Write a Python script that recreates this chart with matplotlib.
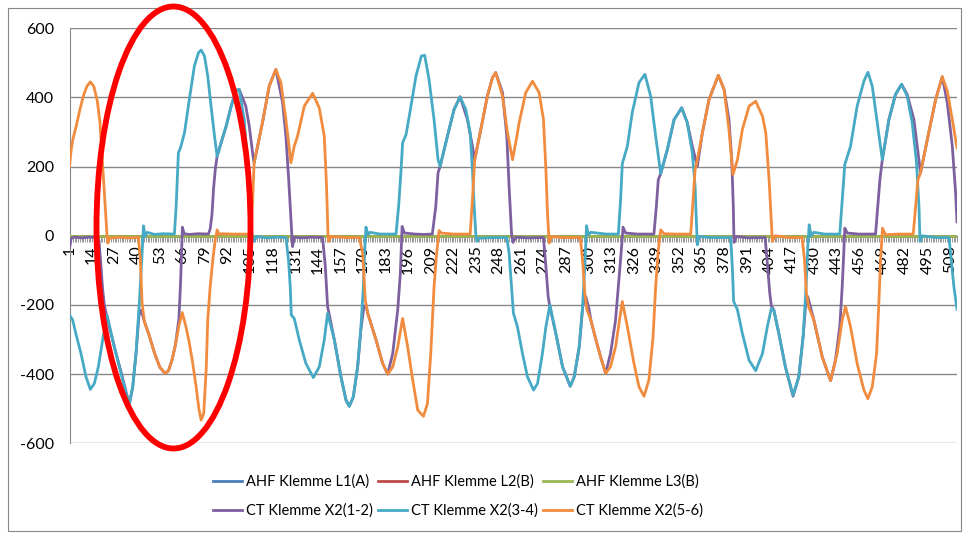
import matplotlib.pyplot as plt
from matplotlib.patches import Ellipse, Rectangle

plt.rcParams['font.family'] = ['Lato', 'DejaVu Sans']
plt.rcParams['axes.unicode_minus'] = False

# Messpunkt-Index (1..512) und Stromwerte
x_ahf = [1, 100, 200, 300, 400, 512]
y_l1 = [0, 0, 0, 0, 0, 0]
y_l2 = [0, 0, 0, 0, 0, 0]
y_l3 = [0, 0, 0, 0, 0, 0]

# CT Klemme X2(1-2)
x12 = [1, 2, 4, 8, 12, 17, 18, 19, 20, 21, 22, 24, 27, 31, 34, 35.5, 37.4, 39.3, 41, 42.3, 44.1,
       47, 50, 53, 56, 58, 60, 62, 64, 65, 66, 67, 70, 75, 81, 82, 83, 84, 85, 86,
       88.3, 91.2, 94.1, 97, 98.7, 102.5, 104.5, 106.4, 107.3, 109.3, 112.1, 116, 119.8,
       123.7, 125.6, 127.1, 128.5, 129.4, 130.4, 135, 140, 146.7, 148.3, 149.6, 150.2,
       153.5, 157.3, 160.2, 162.1, 164.4, 166.9, 168.8, 170.5, 171.7, 172.7, 177.5, 181.3,
       184.2, 187.1, 190, 191.5, 192.5, 193.8, 200, 205, 209.9, 211.9, 213.2, 214.4, 218.6,
       222.4, 225.9, 230.1, 233, 234.3, 237.8, 241.6, 244.5, 246.4, 250.3, 252.8, 254.1,
       255.5, 256.4, 258, 265, 273.9, 275.3, 276.6, 277.6, 281, 284.9, 289.3, 291.6, 294.5,
       296.6, 298.3, 300.2, 301.2, 304.1, 306.8, 309.7, 312.5, 315.4, 317.3, 318.9, 319.7,
       321.2, 328, 337.5, 338.9, 340, 341.4, 345.2, 349.1, 353.5, 356.7, 359.6, 362.5, 365.4,
       369.2, 374.6, 377.9, 380.7, 382.3, 383.2, 383.6, 385, 392, 401.5, 402.8, 404.2, 405.1,
       406.5, 409.4, 413.2, 417.6, 420.9, 423.4, 425, 426.1, 429.6, 434.4, 439.2, 442, 444.5,
       445.9, 446.8, 447.4, 448.8, 455, 465.1, 466.4, 467.6, 469, 472.8, 476.6, 480.1, 483.3,
       487.2, 490.1, 491, 494.9, 499.7, 503.5, 506.4, 509.3, 511.2, 512]
y12 = [-36, -7, -4, -6, -4, -5, -15, -80, -150, -200, -222, -265, -325, -400, -460, -485, -437, -340, -230, -215, -248,
       -290, -340, -380, -398, -390, -360, -315, -240, -130, 25, 6, 4, 6, 5, 20, 60, 140, 195, 230,
       269, 317, 375, 421, 423, 375, 317, 240, 211, 259, 327, 433, 481,
       385, 288, 172, 46, -31, -4, -6, -4, -5, -89, -205, -219,
       -301, -408, -475, -493, -466, -379, -270, -205, -200, -224, -301, -369,
       -400, -340, -214, -108, 27, 8, 5, 4, 5, 85, 182, 201, 288,
       365, 402, 336, 259, 220, 307, 404, 457, 472, 414, 288, 143,
       8, -19, -4, -6, -5, -89, -176, -205, -282, -379, -435, -408, -321,
       -200, -176, -214, -244, -301, -350, -398, -340, -244, -128, -31, 25,
       8, 5, 5, 85, 162, 180, 249, 336, 370, 327, 259, 201, 298,
       394, 464, 423, 336, 220, 85, -19, -2, -6, -5, -79, -166, -203,
       -214, -282, -379, -464, -408, -292, -190, -176, -244, -350, -419, -360, -263,
       -147, -50, 22, 8, 5, 5, 85, 162, 220, 336, 409, 438, 409,
       336, 220, 182, 278, 394, 460, 385, 259, 124, 40]

# CT Klemme X2(3-4)
x34 = [1, 2.8, 5, 7.6, 10.5, 13, 15.3, 17.6, 20.1, 22.6, 24.5, 26.8, 30.7, 33.6, 35.5, 37.4, 39.3,
       41.2, 42.6, 43.6, 44.5, 45.7, 50, 55, 61.4, 62.4, 63.7, 64.9, 67.2, 70, 72.9, 75.3, 76.8,
       78.7, 80.6, 82.5, 84.5, 86, 88.3, 91.2, 94.1, 97, 98.7, 101.6, 103.5, 104.8, 106, 107.3,
       108.7, 115, 120, 125.6, 127.1, 128.1, 128.7, 130.4, 133.3, 137.1, 141.4, 144.8, 147.7,
       149.6, 153.5, 157.3, 160.2, 162.1, 164.4, 166.9, 168.8, 170.2, 171.1, 171.7, 172.9, 174,
       180, 189, 190.5, 191.9, 192.8, 194.8, 197.6, 200.5, 203.6, 205.5, 208, 210.9, 213.2,
       214.4, 218.6, 222.4, 225.9, 229.2, 231.7, 233, 234, 234.9, 235.5, 236.8, 245, 252.8,
       254.1, 255.5, 256.6, 258.9, 261.8, 264.7, 268.2, 270.5, 273.3, 275.3, 277.6, 281, 284.9,
       289.3, 291.6, 294.5, 296.4, 297.7, 298.7, 299.7, 301.2, 310, 317, 318.3, 319.3, 322.2,
       325, 328.9, 332.3, 335.6, 338.5, 341.4, 345.2, 349.1, 353.5, 356.7, 359.6, 361.2, 361.9,
       362.5, 363.5, 370, 381.7, 382.7, 383.4, 385.6, 388.4, 392.3, 396.1, 400, 402.8, 405.1,
       406.5, 409.4, 413.2, 417.6, 420.9, 423.4, 425.1, 426.1, 426.9, 428, 429.6, 436, 444.5,
       445.9, 447.4, 450.7, 454.5, 458.4, 460.7, 463.2, 466.1, 469, 472.8, 476.6, 480.1, 483.3,
       486.2, 488.7, 490.1, 490.7, 492, 500, 507.4, 508.7, 510.2, 512]
y34 = [-229, -243, -290, -340, -408, -444, -427, -379, -301, -229, -270, -321, -398, -456, -485, -437, -340,
       -195, -70, 29, -2, 10, 4, 6, 5, 85, 240, 254, 298, 394, 491, 530, 537,
       520, 462, 375, 288, 230, 269, 317, 375, 421, 423, 336, 211, 95, 8, -16,
       -2, -6, -4, -5, -70, -147, -229, -239, -301, -369, -410, -379, -301,
       -224, -301, -408, -475, -493, -466, -379, -263, -147, -31, 25, 3, 10,
       5, 5, 85, 191, 269, 293, 375, 462, 520, 522, 452, 336, 220,
       201, 288, 365, 402, 365, 298, 191, 85, 8, -16, -7, -5, -5,
       -50, -147, -224, -263, -340, -408, -446, -427, -340, -263, -200, -282, -379,
       -435, -408, -321, -205, -89, 29, 3, 10, 5, 5, 104, 209, 259,
       356, 443, 467, 404, 288, 180, 249, 336, 370, 327, 240, 143, 46,
       -26, -2, -5, -5, -99, -190, -214, -282, -360, -390, -340, -263, -210,
       -214, -282, -379, -461, -408, -292, -147, -31, 32, 0, 10, 5, 5,
       104, 206, 259, 375, 447, 473, 433, 327, 220, 336, 409, 438, 404,
       327, 211, 85, -16, 0, -5, -5, -70, -147, -212]

# CT Klemme X2(5-6)
x56 = [1, 2, 3, 5, 7, 9, 11, 13, 15, 17, 18.5, 19.5, 20.5, 21.5, 22.5, 23, 24, 30, 35, 40.7, 41.8,
       42.8, 44.1, 47, 50, 53, 56, 58, 60, 62, 64, 65.9, 68, 70, 72, 74, 75.5, 76.8, 78.3, 79.7,
       80.6, 82, 83.5, 84.9, 86, 87, 88, 95, 105.4, 106.4, 107.3, 109.3, 112.1, 116, 119.8,
       122.7, 125.6, 128.5, 130.4, 132.3, 136.2, 141, 144.8, 147.7, 149, 149.8, 150.2, 151.5,
       160, 167.9, 169.8, 171.3, 172.7, 177.5, 181.3, 184.2, 187.1, 190, 192.8, 195.7, 198.6,
       201.5, 204.8, 207.1, 209, 210.9, 212.4, 213.8, 215.1, 222, 231.7, 233, 234.3, 237.8,
       241.6, 244.5, 246.4, 250.3, 253.2, 256.1, 258.6, 259.9, 263.7, 267.6, 271.4, 273.9,
       275.3, 276.2, 277.2, 278.5, 285, 295.1, 296.4, 297.7, 298.9, 301.2, 304.1, 306.8, 309.7,
       312.5, 315.4, 319.3, 322.2, 326, 328.9, 331.8, 334.6, 337, 338.5, 340, 341.4, 343.3,
       350, 358.7, 360, 361.2, 362.5, 365.4, 369.2, 374.6, 377.9, 380.7, 383, 385.6, 388.4,
       392.3, 396.1, 400, 401.9, 403.8, 405, 405.7, 407.3, 415, 422.8, 424.2, 425.3, 426.7,
       429.6, 434.4, 439.2, 443, 445.9, 447.8, 450.7, 454.5, 458.4, 460.7, 463.2, 465.7, 467,
       468, 469.1, 470.9, 478, 486.8, 488.2, 489.5, 491, 494.9, 499.7, 503.5, 506.4, 509.3, 512]
y56 = [201, 250, 280, 320, 365, 405, 432, 445, 432, 390, 330, 250, 170, 85, 10, -21, -7, -4, -6, -5, -70,
       -195, -248, -290, -340, -380, -398, -390, -360, -315, -260, -222, -262, -310, -370, -440, -500, -533, -513, -387,
       -243, -147, -70, -12, 17, 3, 6, 5, 5, 95, 211, 259, 327, 433, 481,
       443, 336, 211, 259, 288, 375, 412, 370, 288, 143, 8, -16, -2,
       -5, -5, -50, -186, -224, -301, -369, -400, -379, -321, -239, -321, -417,
       -504, -522, -485, -340, -147, -50, 15, 8, 5, 5, 104, 220, 307,
       404, 457, 472, 404, 298, 220, 288, 327, 414, 447, 414, 336,
       191, 66, -21, -2, -5, -5, -70, -166, -214, -244, -301, -350, -398,
       -379, -321, -190, -263, -369, -437, -464, -417, -292, -147, -41, 17, 6,
       5, 5, 104, 191, 220, 298, 394, 464, 423, 307, 177, 220, 307,
       375, 389, 346, 298, 162, 46, -16, 0, -5, -5, -70, -166, -207,
       -244, -350, -419, -340, -244, -205, -263, -369, -446, -471, -437, -340, -195,
       -70, 22, 3, 5, 5, 85, 162, 182, 278, 394, 460, 419, 336, 254]

labels = ['AHF Klemme L1(A)', 'AHF Klemme L2(B)', 'AHF Klemme L3(B)',
          'CT Klemme X2(1-2)', 'CT Klemme X2(3-4)', 'CT Klemme X2(5-6)']
colors = ['#4A7EBB', '#BE4B48', '#98B954', '#7D60A0', '#46AAC5', '#F18C3E']
grid_c = '#878787'

fig = plt.figure(figsize=(9.64, 5.34), dpi=100)
ax = fig.add_axes([69.5 / 964, 90.7 / 534, 887.5 / 964, 415 / 534])

series = [(x_ahf, y_l1), (x_ahf, y_l2), (x_ahf, y_l3), (x12, y12), (x34, y34), (x56, y56)]
lines = []
for k, (xs, ys) in enumerate(series):
    ln, = ax.plot(xs, ys, color=colors[k], lw=2.0, label=labels[k], zorder=3 + k,
                  solid_joinstyle='round')
    lines.append(ln)

ax.set_xlim(1, 512)
ax.set_ylim(-600, 600)
ax.set_yticks(range(-600, 601, 200))
ax.yaxis.grid(True, color=grid_c, lw=1.0)
ax.set_axisbelow(True)
for s in ['top', 'right']:
    ax.spines[s].set_visible(False)
ax.spines['bottom'].set_position(('data', 0))
ax.spines['bottom'].set_color(grid_c)
ax.spines['left'].set_color(grid_c)

ticks = list(range(1, 513))
ax.set_xticks(ticks)
ax.set_xticklabels([str(t) if (t - 1) % 13 == 0 else '' for t in ticks], rotation=90)
ax.tick_params(axis='x', length=4, width=0.6, color=grid_c, pad=3, labelsize=11.5)
ax.tick_params(axis='y', length=0, pad=11, labelsize=11.5)

# Legende: zwei Zeilen à drei Einträge
order = [0, 3, 1, 4, 2, 5]
fig.legend([lines[i] for i in order], [labels[i] for i in order], ncol=3, loc='center',
           bbox_to_anchor=(458 / 964, 1 - 496 / 534), frameon=False, fontsize=10.5,
           handlelength=2.0, handletextpad=0.25, columnspacing=0.35, labelspacing=1.0)

# Markierung
fig.add_artist(Ellipse((173.5 / 964, 1 - 227.5 / 534), 154 / 964, 442 / 534,
                       transform=fig.transFigure, fill=False, ec='#FF0000', lw=4.2, zorder=20))
fig.add_artist(Rectangle((7.5 / 964, 3.5 / 534), 953 / 964, 523 / 534, transform=fig.transFigure,
                         fill=False, ec='#868686', lw=0.8))

fig.savefig('out.png', dpi=100)
